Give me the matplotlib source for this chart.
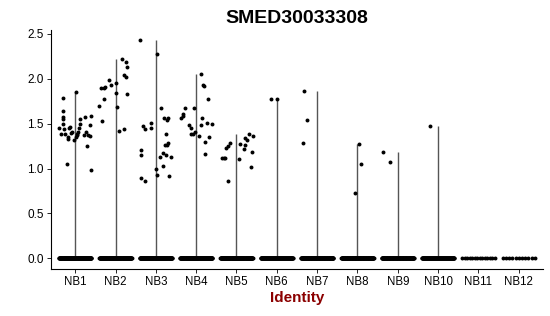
import numpy as np
import matplotlib
matplotlib.use("Agg")
import matplotlib.pyplot as plt

plt.rcParams["font.family"] = ["Liberation Sans", "DejaVu Sans"]

# groups
groups = ["NB1", "NB2", "NB3", "NB4", "NB5", "NB6", "NB7", "NB8", "NB9", "NB10", "NB11", "NB12"]

# expression of non-zero cells per group
nb1_vals = [1.45, 1.39, 1.79, 1.64, 1.57, 1.55, 1.50, 1.44, 1.39, 1.05, 1.33, 1.35, 1.45, 1.46, 1.40,
            1.41, 1.32, 1.85, 1.35, 1.37, 1.39, 1.41, 1.45, 1.50, 1.55, 1.37, 1.58, 1.41, 1.25, 1.37,
            1.36, 1.59, 1.49, 0.98]
nb2_vals = [1.70, 1.90, 1.53, 1.90, 1.77, 1.91, 1.99, 1.93, 1.95, 1.84, 1.69, 1.42, 2.22, 2.04,
            1.44, 2.02, 2.19, 2.13, 1.83]
nb3_vals = [2.43, 0.89, 1.21, 1.15, 1.47, 1.44, 0.86, 1.51, 1.45, 1.00, 2.28, 0.93, 1.13, 1.68,
            1.17, 1.03, 1.56, 1.26, 1.15, 1.39, 1.54, 1.26, 1.56, 1.29, 0.92, 1.13]
nb4_vals = [1.56, 1.59, 1.61, 1.67, 1.48, 1.45, 1.38, 1.38, 1.68, 1.41, 1.36, 1.49, 2.05, 1.56,
            1.93, 1.92, 1.16, 1.30, 1.51, 1.77, 1.35, 1.50]
nb5_vals = [1.12, 1.12, 1.12, 0.86, 1.23, 1.25, 1.29, 1.11, 1.27, 1.22, 1.34, 1.26, 1.32, 1.38,
            1.02, 1.19, 1.36]
nb6_vals = [1.78, 1.78]
nb7_vals = [1.87, 1.54, 1.29]
nb8_vals = [0.73, 1.27, 1.05]
nb9_vals = [1.18, 1.07]
nb10_vals = [1.47]
nb11_vals = []
nb12_vals = []

# horizontal jitter of the non-zero cells
nb1_jit = [-0.40, -0.35, -0.29, -0.29, -0.30, -0.30, -0.29, -0.27, -0.25, -0.21, -0.19, -0.18, -0.15,
           -0.13, -0.10, -0.07, -0.02, 0.01, 0.02, 0.04, 0.05, 0.07, 0.10, 0.11, 0.12, 0.22, 0.24,
           0.28, 0.30, 0.31, 0.36, 0.38, 0.37, 0.38]
nb2_jit = [-0.40, -0.36, -0.33, -0.28, -0.29, -0.25, -0.17, -0.12, 0.0, 0.02, 0.04, 0.08, 0.15,
           0.20, 0.22, 0.25, 0.27, 0.29, 0.28]
nb3_jit = [-0.39, -0.37, -0.37, -0.36, -0.31, -0.26, -0.27, -0.12, -0.12, 0.01, 0.02, 0.04, 0.10,
           0.12, 0.17, 0.17, 0.20, 0.22, 0.25, 0.26, 0.27, 0.28, 0.30, 0.31, 0.32, 0.38]
nb4_jit = [-0.37, -0.33, -0.32, -0.28, -0.17, -0.13, -0.12, -0.07, -0.05, -0.03, 0.07, 0.11, 0.12,
           0.15, 0.16, 0.19, 0.21, 0.23, 0.27, 0.29, 0.31, 0.40]
nb5_jit = [-0.36, -0.32, -0.28, -0.22, -0.25, -0.22, -0.16, 0.07, 0.09, 0.19, 0.20, 0.22, 0.26,
           0.32, 0.36, 0.38, 0.40]
nb6_jit = [-0.14, 0.01]
nb7_jit = [-0.33, -0.24, -0.34]
nb8_jit = [-0.06, 0.04, 0.08]
nb9_jit = [-0.37, -0.20]
nb10_jit = [-0.21]
nb11_jit = []
nb12_jit = []

# number of cells with zero expression
zero_counts = [160, 160, 160, 160, 160, 130, 150, 150, 140, 130, 14, 11]

values = [nb1_vals, nb2_vals, nb3_vals, nb4_vals, nb5_vals, nb6_vals,
          nb7_vals, nb8_vals, nb9_vals, nb10_vals, nb11_vals, nb12_vals]
jitters = [nb1_jit, nb2_jit, nb3_jit, nb4_jit, nb5_jit, nb6_jit,
           nb7_jit, nb8_jit, nb9_jit, nb10_jit, nb11_jit, nb12_jit]

fig = plt.figure(figsize=(5.5, 3.16), dpi=100)
ax = fig.add_axes([0.0927, 0.1487, 0.8945, 0.7579])

for i, (vals, jit, nz) in enumerate(zip(values, jitters, zero_counts)):
    pos = i + 1
    # violin is collapsed to a thin line from 0 to the max value
    if vals:
        ax.vlines(pos, 0, max(vals), color="#555555", linewidth=1.0, zorder=1)
    zx = pos + np.linspace(-0.4, 0.4, nz)
    ax.scatter(zx, np.zeros(nz), s=8, color="black", linewidths=0, zorder=2)
    if vals:
        ax.scatter(pos + np.array(jit), vals, s=8, color="black", linewidths=0, zorder=2)

ax.set_xlim(0.4, 12.6)
ax.set_ylim(-0.12, 2.55)
ax.set_xticks(range(1, len(groups) + 1))
ax.set_xticklabels(groups, fontsize=8.3)
ax.set_yticks([0, 0.5, 1.0, 1.5, 2.0, 2.5])
ax.set_yticklabels(["0.0", "0.5", "1.0", "1.5", "2.0", "2.5"], fontsize=8.5)
ax.tick_params(length=3, width=0.6, pad=2)
for side in ["top", "right"]:
    ax.spines[side].set_visible(False)
for side in ["left", "bottom"]:
    ax.spines[side].set_linewidth(0.8)

ax.set_title("SMED30033308", fontsize=14, fontweight="bold", pad=5)
ax.set_xlabel("Identity", fontsize=11, fontweight="bold", color="#8B0000", labelpad=2)

fig.savefig("out.png", dpi=100)
